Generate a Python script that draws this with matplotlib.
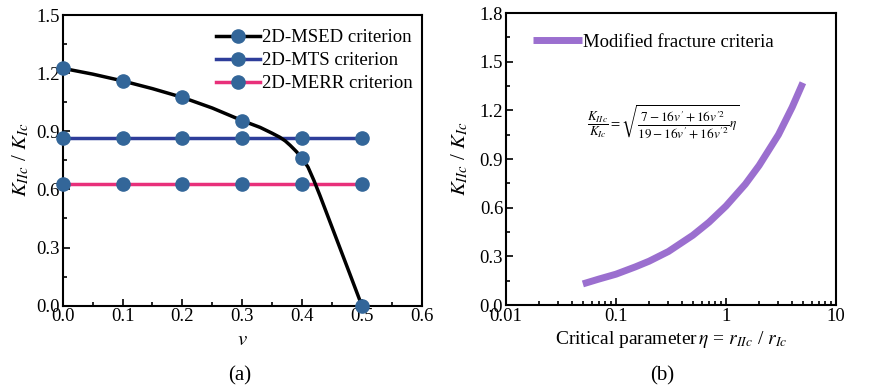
import numpy as np
import matplotlib
matplotlib.use("Agg")
import matplotlib.pyplot as plt
from matplotlib.ticker import MultipleLocator, LogLocator, NullFormatter, FixedLocator, FixedFormatter
from matplotlib.lines import Line2D

plt.rcParams['font.family'] = ['Liberation Serif', 'DejaVu Serif']
plt.rcParams['mathtext.fontset'] = 'stix'

# ---- data (a) ----
v_pts = [0.0, 0.1, 0.2, 0.3, 0.4, 0.5]
msed_pts = [1.225, 1.16, 1.075, 0.955, 0.76, 0.0]
mts_pts = [0.866, 0.866, 0.866, 0.866, 0.866, 0.866]
merr_pts = [0.63, 0.63, 0.63, 0.63, 0.63, 0.63]
v_curve = [0.0, 0.05, 0.1, 0.15, 0.2, 0.25, 0.3, 0.33, 0.35, 0.363, 0.372, 0.38,
           0.39, 0.40, 0.41, 0.42, 0.43, 0.44, 0.46, 0.48, 0.5]
msed_curve = [1.225, 1.195, 1.16, 1.12, 1.075, 1.02, 0.955, 0.92, 0.89, 0.869, 0.85, 0.828,
              0.797, 0.762, 0.715, 0.645, 0.568, 0.487, 0.325, 0.163, 0.0]

# ---- data (b) ----
eta = [0.05, 0.07, 0.1, 0.15, 0.2, 0.3, 0.5, 0.7, 1.0, 1.5, 2.0, 3.0, 4.0, 5.0]
ratio = [0.13, 0.16, 0.19, 0.235, 0.27, 0.33, 0.43, 0.51, 0.61, 0.745, 0.86, 1.05, 1.22, 1.37]

fig = plt.figure(figsize=(8.76, 3.9), dpi=100)
W, H = 876, 390
ax1 = fig.add_axes([62.7 / W, 1 - 305.7 / H, (421.7 - 62.7) / W, (305.7 - 15) / H])
ax2 = fig.add_axes([506 / W, 1 - 305 / H, (836 - 506) / W, (305 - 13) / H])

mc = '#336699'
ax1.plot(v_curve, msed_curve, color='black', lw=2.5, zorder=3)
ax1.plot(v_pts, mts_pts, color='#2e3d9a', lw=2.5, zorder=2)
ax1.plot(v_pts, merr_pts, color='#e8307a', lw=2.5, zorder=2)
for y in (msed_pts, mts_pts, merr_pts):
    ax1.plot(v_pts, y, ls='none', marker='o', ms=9.5, color=mc, zorder=4, clip_on=False)

handles = [Line2D([], [], color=c, lw=2.5, marker='o', ms=9.5, mfc=mc, mec=mc)
           for c in ('black', '#2e3d9a', '#e8307a')]
leg = ax1.legend(handles, ['2D-MSED criterion', '2D-MTS criterion', '2D-MERR criterion'],
                 loc='upper right', bbox_to_anchor=(0.976, 0.952), fontsize=13.5,
                 frameon=False, borderpad=0.0, labelspacing=0.32,
                 handlelength=2.3, handletextpad=0.15, borderaxespad=0.0)

ax1.set_xlim(0, 0.6)
ax1.set_ylim(0, 1.5)
ax1.xaxis.set_major_locator(MultipleLocator(0.1))
ax1.xaxis.set_minor_locator(MultipleLocator(0.05))
ax1.yaxis.set_major_locator(MultipleLocator(0.3))
ax1.yaxis.set_minor_locator(MultipleLocator(0.15))
ax1.set_xlabel(r'$v$', fontsize=15, labelpad=4)
ax1.set_ylabel(r'$K_{IIc}$ / $K_{Ic}$', fontsize=15, labelpad=4)

ax2.plot(eta, ratio, color='#9b6fcf', lw=5, solid_capstyle='butt', label='Modified fracture criteria')
ax2.set_xscale('log')
ax2.set_xlim(0.01, 10)
ax2.set_ylim(0, 1.8)
ax2.xaxis.set_major_locator(FixedLocator([0.01, 0.1, 1, 10]))
ax2.xaxis.set_major_formatter(FixedFormatter(['0.01', '0.1', '1', '10']))
ax2.xaxis.set_minor_locator(LogLocator(base=10, subs=np.arange(2, 10)))
ax2.xaxis.set_minor_formatter(NullFormatter())
ax2.yaxis.set_major_locator(MultipleLocator(0.3))
ax2.yaxis.set_minor_locator(MultipleLocator(0.15))
ax2.set_xlabel(r'Critical parameter$\,\eta$ = $r_{IIc}$ / $r_{Ic}$', fontsize=14, labelpad=3)
ax2.set_ylabel(r'$K_{IIc}$ / $K_{Ic}$', fontsize=15, labelpad=7)
ax2.legend(loc='upper left', bbox_to_anchor=(0.083, 0.93), fontsize=13.5, frameon=False,
           handlelength=2.6, handletextpad=0.05, borderaxespad=0.0, borderpad=0.0)
ax2.text(0.475, 0.625,
         r'$\dfrac{K_{IIc}}{K_{Ic}}=\sqrt{\dfrac{7-16v^{\prime}+16v^{\prime 2}}{19-16v^{\prime}+16v^{\prime 2}}\eta}$',
         transform=ax2.transAxes, ha='center', va='center', fontsize=9.5)

for ax in (ax1, ax2):
    ax.tick_params(which='both', direction='in', labelsize=13.5, width=1.2, pad=2)
    ax.tick_params(which='major', length=5)
    ax.tick_params(which='minor', length=3)
    for s in ax.spines.values():
        s.set_linewidth(1.5)

fig.text(240 / W, 1 - 376 / H, '(a)', ha='center', va='center', fontsize=15)
fig.text(662 / W, 1 - 376 / H, '(b)', ha='center', va='center', fontsize=15)

fig.savefig('out.png', dpi=100)
